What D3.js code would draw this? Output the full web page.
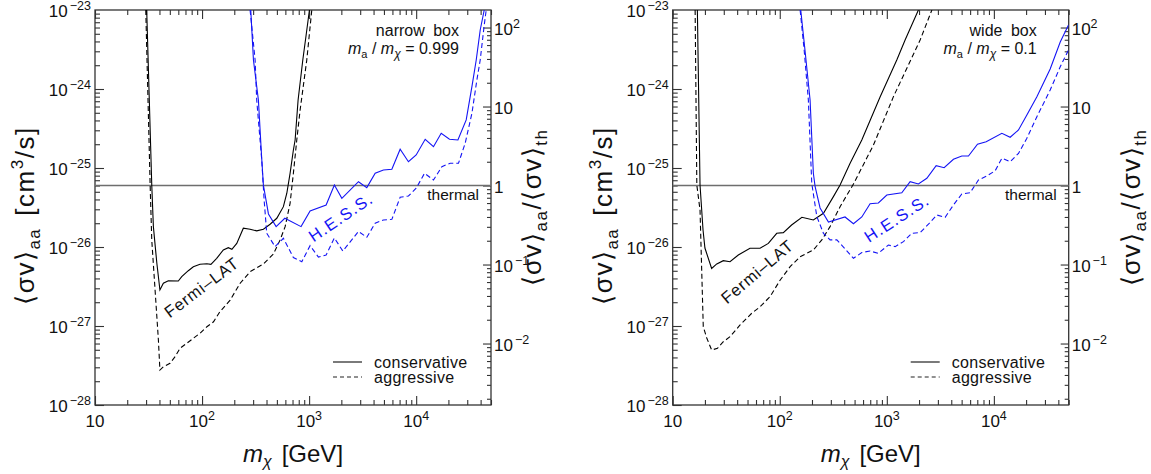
<!DOCTYPE html>
<html>
<head>
<meta charset="utf-8">
<script src="https://cdn.jsdelivr.net/npm/d3@7"></script>
<style>
  body { margin: 0; background: #fff; }
  text { font-family: "Liberation Sans", Arial, Helvetica, sans-serif; fill: #111; }
</style>
</head>
<body>
<svg id="chart" width="1151" height="474"></svg>
<script>
// thermal relic cross section, cm^3/s
const sigmaThermal = 6e-26;

// axis ranges
const massRange = [10, 5e4];
const sigmaRange = [1e-28, 1e-23];

// tick labels: [value, base, exponent]
const massTickLabels = [[10, "10", ""], [100, "10", "2"], [1000, "10", "3"], [10000, "10", "4"]];
const sigmaTickLabels = [[1e-28, "10", "−28"], [1e-27, "10", "−27"], [1e-26, "10", "−26"],
                         [1e-25, "10", "−25"], [1e-24, "10", "−24"], [1e-23, "10", "−23"]];
const ratioTickLabels = [[0.01, "10", "−2"], [0.1, "10", "−1"], [1, "1", ""], [10, "10", ""], [100, "10", "2"]];

const legendLabels = ["conservative", "aggressive"];

// narrow box, m_a/m_chi = 0.999  -- [m_chi GeV, <sigma v> cm^3/s]
const narrowFermiCons = [[30.4,1e-23],[33.9,6.09e-26],[35.1,1.81e-26],[37.8,6.27e-27],[40.4,2.86e-27],[43.5,3.48e-27],
  [48.4,3.74e-27],[60.0,3.71e-27],[64.6,4.21e-27],[74.4,5.01e-27],[82.9,5.63e-27],[95.7,6.04e-27],[111,6.15e-27],
  [121,6.04e-27],[137,7.19e-27],[158,9.17e-27],[176,9.80e-27],[190,9.35e-27],[211,1.11e-26],[243,1.73e-26],
  [281,1.68e-26],[324,1.60e-26],[374,1.68e-26],[432,1.94e-26],[499,2.31e-26],[575,3.24e-26],[619,4.79e-26],
  [664,8.57e-26],[713,1.69e-25],[740,2.26e-25],[789,7.26e-25],[873,2.33e-24],[938,4.83e-24],[1007,1e-23]];
const narrowFermiAggr = [[29.8,1e-23],[32.7,6.46e-26],[33.9,1.23e-26],[36.4,2.86e-27],[39.1,6.65e-28],[40.4,2.77e-28],
  [43.5,3.05e-28],[50.2,3.37e-28],[56.0,4.09e-28],[62.3,5.22e-28],[71.9,6.04e-28],[82.9,6.99e-28],[95.7,8.09e-28],
  [111,9.80e-28],[128,1.13e-27],[147,1.52e-27],[183,2.13e-27],[227,3.48e-27],[281,4.86e-27],[374,6.10e-27],
  [464,8.15e-27],[536,1.23e-26],[597,1.81e-26],[664,3.57e-26],[713,8.57e-26],[767,2.26e-25],[824,5.42e-25],
  [951,2.33e-24],[1059,1e-23]];
const narrowHessCons = [[285,1e-23],[302,2.33e-24],[336,7.26e-25],[360,1.39e-25],[374,6.09e-26],[417,2.62e-26],
  [492,1.81e-26],[593,2.31e-26],[841,1.81e-26],[1021,2.86e-26],[1442,3.40e-26],[1722,6.09e-26],[2022,4.13e-26],
  [2891,6.71e-26],[3459,5.64e-26],[4140,8.57e-26],[4945,9.44e-26],[5928,9.63e-26],[7085,1.73e-25],[8469,1.20e-25],
  [10000,1.46e-25],[12140,2.31e-25],[14510,1.86e-25],[17130,2.75e-25],[20480,2.31e-25],[24540,2.26e-25],
  [29330,4.06e-25],[33170,1.07e-24],[36390,2.33e-24],[39650,5.58e-24],[43230,1e-23]];
const narrowHessAggr = [[281,1e-23],[313,2.33e-24],[324,7.26e-25],[361,1.26e-25],[380,3.94e-26],[402,1.49e-26],
  [481,1.01e-26],[575,1.29e-26],[713,7.36e-27],[855,6.52e-27],[1021,1.04e-26],[1222,7.46e-27],[1442,7.92e-27],
  [1722,1.30e-26],[2065,8.89e-27],[2891,1.57e-26],[3459,1.33e-26],[4140,2.00e-26],[4945,2.20e-26],[5928,2.24e-26],
  [7085,4.26e-26],[8469,4.42e-26],[10000,5.54e-26],[11970,8.57e-26],[14510,7.05e-26],[17380,1.04e-25],
  [20800,1.15e-25],[24850,1.15e-25],[28700,2.06e-25],[33170,4.92e-25],[36900,1.30e-24],[39650,2.33e-24],
  [43230,6.45e-24],[45100,1e-23]];

// wide box, m_a/m_chi = 0.1
const wideFermiCons = [[17.0,1e-23],[18.0,6.09e-26],[19.2,1.64e-26],[20.0,9.70e-27],[23.1,5.35e-27],[25.8,6.10e-27],
  [29.7,6.71e-27],[34.3,6.52e-27],[41.0,7.92e-27],[52.7,9.64e-27],[65.5,9.64e-27],[78.2,1.11e-26],[93.7,1.49e-26],
  [108,1.52e-26],[129,1.90e-26],[161,2.38e-26],[206,2.20e-26],[256,2.67e-26],[317,4.34e-26],[366,6.09e-26],
  [454,1.15e-25],[584,2.26e-25],[865,7.93e-25],[1239,2.33e-24],[1482,4.17e-24],[1973,1e-23]];
const wideFermiAggr = [[16.2,1e-23],[16.8,6.09e-26],[18.0,2.94e-26],[19.3,9.80e-28],[20.8,7.05e-28],[23.1,4.97e-28],
  [26.2,5.22e-28],[29.7,6.32e-28],[34.3,7.32e-28],[42.6,1.03e-27],[54.7,1.45e-27],[65.5,1.75e-27],[81.1,2.35e-27],
  [101,3.82e-27],[125,5.63e-27],[155,7.54e-27],[206,9.17e-27],[247,1.23e-26],[295,1.81e-26],[366,3.24e-26],
  [488,6.27e-26],[750,1.95e-25],[1153,8.00e-25],[2047,4.17e-24],[2636,1e-23]];
const wideHessCons = [[157,1e-23],[172,3.12e-24],[192,7.26e-25],[206,8.57e-26],[214,5.79e-26],[238,3.12e-26],
  [285,2.07e-26],[407,2.40e-26],[488,1.97e-26],[584,2.40e-26],[698,3.53e-26],[834,3.61e-26],[1000,4.55e-26],
  [1380,4.86e-26],[1651,6.71e-26],[1974,6.27e-26],[2365,7.41e-26],[2890,1.07e-25],[3433,1.01e-25],[4192,1.29e-25],
  [5018,1.42e-25],[5790,1.42e-25],[7033,2.00e-25],[8478,2.15e-25],[11880,2.75e-25],[14200,2.45e-25],
  [16980,3.03e-25],[20330,4.69e-25],[25220,8.00e-25],[33570,1.79e-24],[41670,3.94e-24],[49800,6.45e-24]];
const wideHessAggr = [[155,1e-23],[169,3.12e-24],[185,7.26e-25],[199,6.40e-26],[222,2.42e-26],[256,1.49e-26],
  [295,1.23e-26],[341,1.23e-26],[408,9.44e-27],[488,7.19e-27],[584,8.51e-27],[698,8.89e-27],[834,8.32e-27],
  [1034,1.06e-26],[1196,1.01e-26],[1430,1.17e-26],[1713,1.49e-26],[2048,1.52e-26],[2448,1.95e-26],
  [2933,2.54e-26],[3506,2.38e-26],[4192,3.40e-26],[5018,4.69e-26],[6000,4.86e-26],[7180,7.05e-26],
  [8600,7.92e-26],[10290,9.24e-26],[11880,1.33e-25],[14200,1.20e-25],[16980,1.53e-25],[20330,2.38e-25],
  [25220,4.46e-25],[33570,9.70e-25],[41670,1.91e-24],[49800,3.12e-24]];

const BLUE = "#1414f5";
const svg = d3.select("#chart");
const W = 396, H = 395, TOP = 10;

const isDecade = v => Math.abs(Math.log10(v) - Math.round(Math.log10(v))) < 1e-6;

// "10" with a raised exponent
function powLabel(sel, base, exp) {
  sel.append("tspan").text(base);
  if (exp) sel.append("tspan").attr("dy", -7).attr("dx", exp.startsWith("−") ? 2 : 0)
    .attr("font-size", 12.5).text(exp);
}

function drawPanel(p) {
  const x = d3.scaleLog().domain(massRange).range([p.x0, p.x0 + W]);
  const y = d3.scaleLog().domain(sigmaRange).range([TOP + H, TOP]);
  const yr = d3.scaleLog().domain(sigmaRange.map(s => s / sigmaThermal)).range([TOP + H, TOP]);
  const g = svg.append("g");

  const clipId = "clip" + Math.round(p.x0);
  g.append("clipPath").attr("id", clipId).append("rect")
    .attr("x", p.x0).attr("y", TOP).attr("width", W).attr("height", H);

  // ticks (inward), major and minor
  const xt = x.ticks(), yt = y.ticks(), rt = yr.ticks();
  const tickAxis = (axis, vals, len, tr) => {
    const a = g.append("g").attr("transform", tr)
      .call(axis.tickValues(vals).tickSize(-len).tickSizeOuter(0).tickFormat(""));
    a.select(".domain").remove();
    a.selectAll("line").attr("stroke", "#333").attr("stroke-width", 1.1);
  };
  [[xt.filter(isDecade), 9], [xt.filter(v => !isDecade(v)), 5]].forEach(([v, l]) => {
    tickAxis(d3.axisBottom(x), v, l, `translate(0,${TOP + H})`);
    tickAxis(d3.axisTop(x), v, l, `translate(0,${TOP})`);
  });
  tickAxis(d3.axisLeft(y), yt.filter(isDecade), 9, `translate(${p.x0},0)`);
  tickAxis(d3.axisLeft(y), yt.filter(v => !isDecade(v)), 5, `translate(${p.x0},0)`);
  tickAxis(d3.axisRight(yr), rt.filter(isDecade), 8, `translate(${p.x0 + W},0)`);
  tickAxis(d3.axisRight(yr), rt.filter(v => !isDecade(v)), 4, `translate(${p.x0 + W},0)`);

  // frame
  g.append("rect").attr("x", p.x0).attr("y", TOP).attr("width", W).attr("height", H)
    .attr("fill", "none").attr("stroke", "#333").attr("stroke-width", 1.3);

  // tick labels
  massTickLabels.forEach(([v, b, e]) => {
    const t = g.append("text").attr("x", x(v)).attr("y", TOP + H + 22)
      .attr("text-anchor", "middle").attr("font-size", 17);
    powLabel(t, b, e);
  });
  sigmaTickLabels.forEach(([v, b, e]) => {
    const t = g.append("text").attr("x", p.x0 - 4).attr("y", y(v) + 7)
      .attr("text-anchor", "end").attr("font-size", 17);
    powLabel(t, b, e);
  });
  ratioTickLabels.forEach(([v, b, e]) => {
    const t = g.append("text").attr("x", p.x0 + W + 3).attr("y", yr(v) + 7)
      .attr("font-size", 17);
    powLabel(t, b, e);
  });

  // thermal line
  g.append("line").attr("x1", p.x0).attr("x2", p.x0 + W)
    .attr("y1", y(sigmaThermal)).attr("y2", y(sigmaThermal))
    .attr("stroke", "#6e6e6e").attr("stroke-width", 1.6);
  g.append("text").attr("x", p.x0 + W - 12).attr("y", y(sigmaThermal) + 14)
    .attr("text-anchor", "end").attr("font-size", 15.5).text("thermal");

  // curves
  const line = d3.line().x(d => x(d[0])).y(d => y(d[1]));
  const curves = g.append("g").attr("clip-path", `url(#${clipId})`);
  [[p.fermiCons, "#000", null], [p.fermiAggr, "#000", "5,3"],
   [p.hessCons, BLUE, null], [p.hessAggr, BLUE, "5,3"]].forEach(([d, c, dash]) => {
    curves.append("path").datum(d).attr("d", line)
      .attr("fill", "none").attr("stroke", c).attr("stroke-width", 1.1)
      .attr("stroke-dasharray", dash);
  });

  // curve labels
  g.append("text").attr("transform", `translate(${p.fermiLab[0]},${p.fermiLab[1]}) rotate(${p.fermiLab[2]})`)
    .attr("text-anchor", "middle").attr("font-size", 16.5).attr("letter-spacing", 0.9).text("Fermi–LAT");
  g.append("text").attr("transform", `translate(${p.hessLab[0]},${p.hessLab[1]}) rotate(${p.hessLab[2]})`)
    .attr("text-anchor", "middle").attr("font-size", 16.5).attr("letter-spacing", 1.3)
    .style("fill", BLUE).text("H.E.S.S.");

  // box description
  g.append("text").attr("x", p.x0 + W - 32).attr("y", 36).attr("text-anchor", "end")
    .attr("font-size", 16).attr("word-spacing", 4).text(p.title);
  const r = g.append("text").attr("x", p.x0 + W - 32).attr("y", 54).attr("text-anchor", "end").attr("font-size", 16);
  r.append("tspan").attr("font-style", "italic").text("m");
  r.append("tspan").attr("dy", 4).attr("font-size", 11).text("a");
  r.append("tspan").attr("dy", -4).text(" / ");
  r.append("tspan").attr("font-style", "italic").text("m");
  r.append("tspan").attr("dy", 4).attr("font-size", 12).attr("font-style", "italic").text("χ");
  r.append("tspan").attr("dy", -4).text(" = " + p.ratio);

  // legend
  legendLabels.forEach((lab, i) => {
    const ly = 362 + i * 15;
    g.append("line").attr("x1", p.x0 + 238).attr("x2", p.x0 + 267).attr("y1", ly).attr("y2", ly)
      .attr("stroke", "#222").attr("stroke-width", 1.2).attr("stroke-dasharray", i ? "4,3" : null);
    g.append("text").attr("x", p.x0 + 279).attr("y", ly + 6).attr("font-size", 16)
      .attr("letter-spacing", 0.3).text(lab);
  });

  // axis titles
  const xl = g.append("text").attr("x", p.x0 + W / 2).attr("y", 462)
    .attr("text-anchor", "middle").attr("font-size", 24);
  xl.append("tspan").attr("font-style", "italic").text("m");
  xl.append("tspan").attr("dy", 5).attr("font-size", 16).attr("font-style", "italic").text("χ");
  xl.append("tspan").attr("dy", -5).attr("dx", 10).text("[GeV]");

  const yl = g.append("text").attr("transform", `translate(${p.x0 - 61},${TOP + H / 2 + 8}) rotate(-90)`)
    .attr("text-anchor", "middle").attr("font-size", 26).attr("letter-spacing", 1.5);
  yl.append("tspan").text("⟨σv⟩");
  yl.append("tspan").attr("dy", 6).attr("font-size", 17).text("aa");
  yl.append("tspan").attr("dy", -6).attr("dx", 12).text("[cm");
  yl.append("tspan").attr("dy", -11).attr("font-size", 17).text("3");
  yl.append("tspan").attr("dy", 11).text("/s]");

  const yr2 = g.append("text").attr("transform", `translate(${p.ylabR},${TOP + H / 2}) rotate(-90)`)
    .attr("text-anchor", "middle").attr("font-size", 26).attr("letter-spacing", 1.5);
  yr2.append("tspan").text("⟨σv⟩");
  yr2.append("tspan").attr("dy", 6).attr("font-size", 17).text("aa");
  yr2.append("tspan").attr("dy", -6).text("/⟨σv⟩");
  yr2.append("tspan").attr("dy", 6).attr("font-size", 17).text("th");
}

drawPanel({
  x0: 95, title: "narrow box", ratio: "0.999", ylabR: 541,
  fermiCons: narrowFermiCons, fermiAggr: narrowFermiAggr,
  hessCons: narrowHessCons, hessAggr: narrowHessAggr,
  fermiLab: [205, 292, -37], hessLab: [344, 222, -34]
});
drawPanel({
  x0: 672.7, title: "wide box", ratio: "0.1", ylabR: 1140,
  fermiCons: wideFermiCons, fermiAggr: wideFermiAggr,
  hessCons: wideHessCons, hessAggr: wideHessAggr,
  fermiLab: [761, 276, -40], hessLab: [900, 223, -33]
});
</script>
</body>
</html>
